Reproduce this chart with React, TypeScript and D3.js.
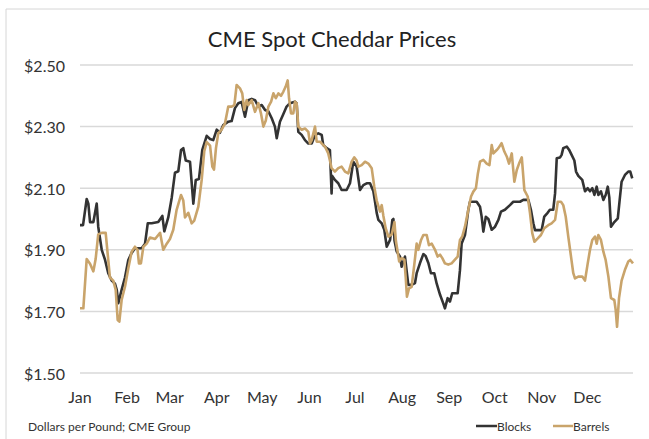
import React from 'react';
import * as d3 from 'd3';

// month axis: label + first day of month (day-of-year index)
const monthLabels = ['Jan', 'Feb', 'Mar', 'Apr', 'May', 'Jun', 'Jul', 'Aug', 'Sep', 'Oct', 'Nov', 'Dec'];
const monthStartDays = [0, 31, 59, 90, 120, 151, 181, 212, 243, 273, 304, 334];

const priceTicks = [1.5, 1.7, 1.9, 2.1, 2.3, 2.5];

// [day of year, $/lb]
const blocks: [number, number][] = [
  [0, 1.98], [2, 1.98], [4.4, 2.065], [5.5, 2.05], [6.6, 1.99], [8.8, 1.99], [11, 2.05], [12, 1.975],
  [14.3, 1.9], [16.5, 1.867], [18.6, 1.824], [20.9, 1.8], [23, 1.79], [24.2, 1.77], [25.2, 1.727],
  [27.4, 1.77], [29.6, 1.81], [31.8, 1.867], [34, 1.89], [36.2, 1.905], [40.6, 1.905], [42.8, 1.92],
  [44.6, 1.986], [47.2, 1.986], [51.5, 1.99], [54.2, 2.01], [55.5, 1.96], [58.1, 2.005], [60.4, 2.07],
  [62.5, 2.15], [64.7, 2.155], [66.5, 2.224], [68, 2.23], [69.6, 2.19], [72.4, 2.186], [74.6, 2.05],
  [76.2, 2.127], [78.3, 2.13], [80.5, 2.224], [83.4, 2.27], [85.6, 2.26], [87.7, 2.256], [90, 2.29],
  [92.1, 2.28], [94.3, 2.305], [97.6, 2.316], [99.8, 2.318], [102, 2.36], [104.2, 2.376], [106.4, 2.38],
  [108.6, 2.332], [110.8, 2.386], [113, 2.39], [115.2, 2.386], [117.4, 2.365], [119.6, 2.37],
  [121.8, 2.354], [123.9, 2.35], [126.2, 2.327], [128.3, 2.3], [129.5, 2.262], [131.6, 2.316],
  [133.8, 2.34], [136, 2.365], [138.2, 2.376], [141.5, 2.381], [142.6, 2.376], [143.7, 2.283],
  [145.9, 2.273], [148.1, 2.256], [150.3, 2.245], [152.5, 2.245], [154.7, 2.273], [156.9, 2.278],
  [159.1, 2.273], [160.1, 2.24], [162.4, 2.23], [164.5, 2.224], [165.6, 2.083], [166, 2.14],
  [167.8, 2.127], [170, 2.116], [172.2, 2.094], [175.5, 2.094], [177.7, 2.116], [179.9, 2.186],
  [182.1, 2.17], [184.3, 2.094], [186.5, 2.11], [188.7, 2.116], [190.9, 2.116], [193.1, 2.09],
  [194.2, 2.056], [195.3, 2.02], [196.4, 1.997], [198.6, 1.986], [200.3, 1.965], [201.9, 1.91],
  [204.1, 1.932], [205.6, 1.997], [206.3, 2.0], [207, 1.93], [208.5, 1.894], [210.6, 1.878],
  [211.7, 1.845], [213.9, 1.878], [216.1, 1.786], [218.3, 1.786], [220.5, 1.792], [221.6, 1.824],
  [223.8, 1.857], [226, 1.886], [227.5, 1.88], [229.3, 1.857], [231, 1.824], [233.2, 1.824],
  [234.8, 1.79], [237, 1.754], [239.1, 1.726], [240.2, 1.71], [242, 1.743], [243.5, 1.732],
  [245, 1.759], [248.6, 1.759], [250.1, 1.834], [251.2, 1.92], [253.4, 1.948], [255.6, 2.03],
  [256.7, 2.056], [261.1, 2.056], [263.3, 2.04], [264.4, 2.007], [265.5, 1.959], [267.1, 2.007],
  [268.8, 2.0], [271, 1.965], [273.2, 1.975], [275.4, 1.997], [277.1, 2.024], [279.7, 2.03],
  [283, 2.045], [285.2, 2.056], [289.6, 2.056], [291.8, 2.062], [295.1, 2.062], [296.8, 2.03],
  [298.4, 1.986], [299.5, 1.964], [303.9, 1.964], [305.6, 2.008], [307.8, 2.02], [309.3, 2.03],
  [311.5, 2.03], [312.7, 2.083], [313.8, 2.197], [316, 2.2], [317, 2.208], [318.1, 2.23],
  [320.4, 2.235], [321.9, 2.225], [323.6, 2.208], [325.4, 2.19], [326.5, 2.154], [328, 2.14],
  [330.6, 2.127], [332.4, 2.09], [334.2, 2.1], [335.7, 2.09], [337.2, 2.1], [338.6, 2.078],
  [340.1, 2.105], [341.2, 2.078], [342.9, 2.09], [344.5, 2.062], [346, 2.078], [347.4, 2.105],
  [348.4, 2.07], [349.5, 1.975], [351.7, 1.99], [354, 2.002], [355.4, 2.07], [356.5, 2.121],
  [358.7, 2.143], [360.9, 2.154], [362.2, 2.154], [363.5, 2.132],
];

const barrels: [number, number][] = [
  [0, 1.71], [2.2, 1.71], [4.4, 1.87], [6.6, 1.855], [8.8, 1.83], [10.3, 1.87], [12, 1.95],
  [14.3, 1.955], [16.9, 1.955], [18.6, 1.867], [19.7, 1.81], [21.9, 1.8], [23.5, 1.77], [24.8, 1.672],
  [25.9, 1.667], [27.4, 1.737], [29.6, 1.78], [31.8, 1.84], [34, 1.894], [36.2, 1.91], [37.9, 1.9],
  [38.8, 1.856], [40.1, 1.856], [41.7, 1.91], [43.9, 1.92], [46.1, 1.94], [49.4, 1.935], [52.7, 1.955],
  [54.8, 1.9], [57.1, 1.92], [59.2, 1.935], [61.4, 1.965], [63.6, 2.03], [66.5, 2.078], [68, 2.06],
  [69.1, 2.005], [71.3, 2.02], [73.5, 1.986], [75.2, 1.995], [77.9, 2.04], [80.1, 2.127],
  [81.8, 2.22], [83.4, 2.25], [85.6, 2.238], [87.1, 2.17], [88.2, 2.16], [89.5, 2.23], [91, 2.278],
  [93.2, 2.29], [95.4, 2.31], [97.6, 2.365], [99.8, 2.365], [101.6, 2.37], [103.1, 2.435],
  [105.3, 2.424], [106.8, 2.408], [108.1, 2.354], [109.7, 2.386], [110.8, 2.37], [113, 2.386],
  [115.2, 2.348], [117.4, 2.376], [119.1, 2.343], [120.7, 2.3], [122.3, 2.32], [124, 2.365],
  [125.8, 2.381], [127.3, 2.408], [128.9, 2.392], [130.6, 2.408], [132.3, 2.4], [133.8, 2.413],
  [135.4, 2.43], [136.7, 2.45], [137.6, 2.392], [138.9, 2.343], [140.4, 2.343], [141.5, 2.381],
  [142.6, 2.376], [143.7, 2.3], [145.9, 2.29], [148.1, 2.294], [150.3, 2.283], [151.4, 2.245],
  [152.5, 2.256], [154.7, 2.3], [155.8, 2.251], [158, 2.251], [160.1, 2.24], [161.3, 2.235],
  [163.4, 2.213], [164.5, 2.19], [165.6, 2.165], [167.8, 2.154], [170, 2.165], [172.2, 2.17],
  [174.4, 2.154], [176.6, 2.148], [178.8, 2.186], [180.5, 2.2], [182.1, 2.19], [183.2, 2.17],
  [185.4, 2.175], [187.6, 2.186], [189.8, 2.18], [192, 2.165], [193.7, 2.105], [195.3, 2.06],
  [197.5, 2.024], [198.6, 2.045], [199.7, 2.01], [201.2, 1.97], [203, 1.943], [205.2, 1.95],
  [207, 1.99], [207.9, 1.93], [209.2, 1.89], [210.1, 1.862], [211.7, 1.873], [213.5, 1.868],
  [214.4, 1.81], [215.2, 1.748], [216.6, 1.775], [218.3, 1.78], [220, 1.85], [221.6, 1.92],
  [222.7, 1.9], [224.5, 1.932], [226, 1.948], [228.2, 1.948], [229.7, 1.915], [231.5, 1.92],
  [233.7, 1.9], [235.4, 1.878], [237, 1.884], [238.5, 1.873], [240.2, 1.856], [242.4, 1.852],
  [244.6, 1.856], [246.8, 1.868], [248.6, 1.878], [250.1, 1.932], [251.6, 1.943], [253.4, 1.975],
  [255.6, 2.03], [257.4, 2.073], [258.9, 2.089], [260.6, 2.1], [261.9, 2.148], [263.3, 2.186],
  [265.5, 2.192], [267.7, 2.18], [269.5, 2.175], [271, 2.24], [272.1, 2.213], [274.3, 2.224],
  [275.4, 2.23], [277.5, 2.246], [279.3, 2.219], [280.9, 2.203], [282.4, 2.18], [284.2, 2.213],
  [285.9, 2.121], [287.5, 2.159], [289, 2.18], [290.8, 2.2], [292.5, 2.094], [294.7, 2.073],
  [296.2, 2.019], [297.7, 1.954], [299.1, 1.926], [301.3, 1.937], [303.4, 1.948], [305.6, 1.97],
  [308.2, 1.98], [310.4, 1.986], [312.7, 1.997], [314.5, 2.056], [316.6, 2.056], [318.1, 2.045],
  [319.7, 2.008], [321.4, 1.943], [323.2, 1.878], [324.7, 1.824], [325.8, 1.807], [328, 1.813],
  [330.6, 1.813], [332.4, 1.8], [334.2, 1.856], [335.7, 1.9], [337.2, 1.932], [339, 1.943],
  [340.1, 1.92], [341.2, 1.948], [342.9, 1.932], [344.5, 1.894], [346, 1.867], [347.8, 1.813],
  [349.5, 1.743], [351.7, 1.737], [352.6, 1.705], [353.5, 1.65], [354.8, 1.743], [356.5, 1.8],
  [358.7, 1.835], [360.9, 1.862], [362.2, 1.867], [364, 1.856],
];

const BLOCK_COLOR = '#333333';
const BARREL_COLOR = '#c9a46b';
const FONT = 'Lato, "Open Sans", sans-serif';

export default function App() {
  const width = 649;
  const height = 439;
  const margin = { top: 65, right: 16, bottom: 66, left: 80 };

  const x = d3.scaleLinear().domain([0, 364]).range([margin.left, width - margin.right]);
  const y = d3.scaleLinear().domain([1.5, 2.5]).range([height - margin.bottom, margin.top]);

  const line = d3.line<[number, number]>()
    .x(d => x(d[0]))
    .y(d => y(d[1]))
    .curve(d3.curveLinear);

  const fmt = d3.format('$.2f');

  return (
    <svg width={width} height={height}
      style={{ position: 'absolute', left: 0, top: 0, background: '#fff' }}
      fontFamily={FONT}>
      {/* frame */}
      <line x1={6} x2={width} y1={9} y2={9} stroke="#d6d6d6" strokeWidth={1} />
      <line x1={6} x2={6} y1={9} y2={height} stroke="#d6d6d6" strokeWidth={1} />

      <text x={332} y={47} textAnchor="middle" fontSize={22} fill="#222">CME Spot Cheddar Prices</text>

      {/* gridlines + y labels */}
      {priceTicks.map(t => (
        <g key={t}>
          <line x1={x(0)} x2={x(364)} y1={y(t)} y2={y(t)} stroke="#d9d9d9" strokeWidth={1.5} />
          <text x={65} y={y(t) + 6.5} textAnchor="end" fontSize={16} fill="#333">{fmt(t)}</text>
        </g>
      ))}

      {/* month labels */}
      {monthLabels.map((m, i) => (
        <text key={m} x={x(monthStartDays[i])} y={403} textAnchor="middle" fontSize={16} fill="#333">{m}</text>
      ))}

      <path d={line(blocks) || ''} fill="none" stroke={BLOCK_COLOR} strokeWidth={2.6} strokeLinejoin="round" />
      <path d={line(barrels) || ''} fill="none" stroke={BARREL_COLOR} strokeWidth={2.6} strokeLinejoin="round" />

      <text x={28} y={431} fontSize={12} fill="#333">Dollars per Pound; CME Group</text>

      {/* legend */}
      <line x1={476} x2={497} y1={426} y2={426} stroke={BLOCK_COLOR} strokeWidth={2.5} />
      <text x={497} y={430.5} fontSize={12} fill="#333">Blocks</text>
      <line x1={553} x2={573} y1={426} y2={426} stroke={BARREL_COLOR} strokeWidth={2.5} />
      <text x={573} y={430.5} fontSize={12} fill="#333">Barrels</text>
    </svg>
  );
}
